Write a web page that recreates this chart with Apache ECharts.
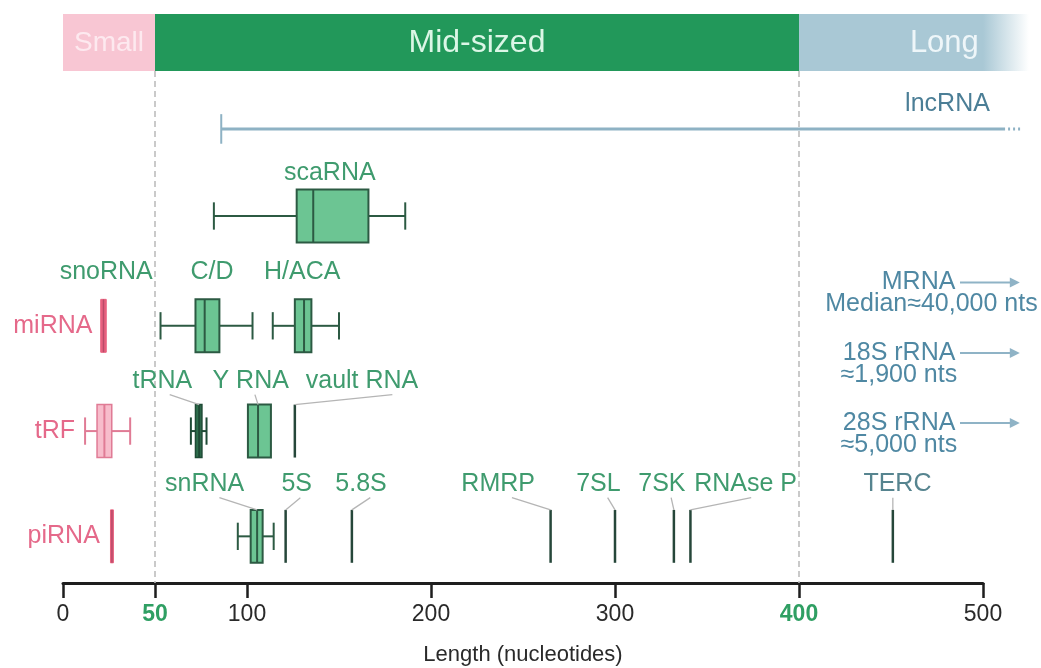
<!DOCTYPE html>
<html>
<head>
<meta charset="utf-8">
<script src="https://cdn.jsdelivr.net/npm/echarts@6/dist/echarts.min.js"></script>
<style>
  html, body { margin: 0; padding: 0; background: #fff; }
  #chart { width: 1041px; height: 668px; }
</style>
</head>
<body>
<div id="chart"></div>
<script>
// length classes shown in the top band
const bandNames = ['Small', 'Mid-sized', 'Long'];
const bandStart = [0, 50, 400];
const bandEnd = [50, 400, 525];

// box plots: [min, q1, median, q3, max] in nucleotides
const boxNames = ['scaRNA', 'C/D', 'H/ACA', 'miRNA', 'tRF', 'tRNA', 'Y RNA', 'snRNA', 'piRNA'];
const boxRows = ['scaRNA', 'miRNA', 'miRNA', 'miRNA', 'tRF', 'tRF', 'tRF', 'piRNA', 'piRNA'];
const boxStats = [
  [82, 127, 136, 166, 186],
  [53, 72, 77, 85, 103],
  [114, 126, 131, 135, 150],
  [20.5, 20.5, 22, 23.5, 23.5],
  [12, 18.5, 22.5, 26.5, 36.5],
  [69.5, 72, 74, 75.5, 78],
  [100.5, 100.5, 106, 113, 113],
  [95, 102, 105.5, 108.5, 114.5],
  [25.8, 25.8, 26.6, 27.4, 27.4]
];

// RNAs with a single length
const singleNames = ['vault RNA', '5S', '5.8S', 'RMRP', '7SL', '7SK', 'RNAse P', 'TERC'];
const singleRows = ['tRF', 'piRNA', 'piRNA', 'piRNA', 'piRNA', 'piRNA', 'piRNA', 'piRNA'];
const singleLengths = [126, 121, 157, 265, 300, 332, 341, 451];

// lncRNA: from ~86 nt, open ended
const lncStart = 86;
const lncEnd = 512;
const lncDotsEnd = 521;

// long RNAs off the scale
const offScaleNames = ['MRNA', '18S rRNA', '28S rRNA'];
const offScaleNotes = ['Median\u224840,000 nts', '\u22481,900 nts', '\u22485,000 nts'];

// axis
const tickValues = [0, 50, 100, 200, 300, 400, 500];
const boundaryTicks = [50, 400];

// ---- layout (vertical levels: 0 = top of band, 10 = axis) ----
const rowY = { lncRNA: 2.02, scaRNA: 3.55, miRNA: 5.48, tRF: 7.33, piRNA: 9.18 };
const labelY = { lncRNA: 1.58, scaRNA: 2.79, miRNA: 4.53, tRF: 6.45, piRNA: 8.26 };
const boxHalf = 0.465;
const capHalf = 0.24;
const bandLabelX = [25, 225, 479];
const rowLabelX = { miRNA: 16, tRF: 6.5, piRNA: 20 };
// [text, row, label centre x, leader start x]
const labelPlaces = [
  ['scaRNA', 'scaRNA', 145, null],
  ['snoRNA', 'miRNA', 23.5, null],
  ['C/D', 'miRNA', 81, null],
  ['H/ACA', 'miRNA', 130, null],
  ['tRNA', 'tRF', 54, 58],
  ['Y RNA', 'tRF', 102, 104.3],
  ['vault RNA', 'tRF', 162.5, 179],
  ['snRNA', 'piRNA', 77, 85],
  ['5S', 'piRNA', 127, 129],
  ['5.8S', 'piRNA', 162, 167],
  ['RMRP', 'piRNA', 236.5, 244],
  ['7SL', 'piRNA', 291, 296],
  ['7SK', 'piRNA', 325.5, 330.5],
  ['RNAse P', 'piRNA', 371, 374],
  ['TERC', 'piRNA', 453.5, 451]
];
const offScaleTitleY = [4.72, 5.96, 7.19];
const offScaleNoteY = [5.1, 6.35, 7.58];
const offScaleTitleX = 485;
const offScaleNoteX = [472, 454.3, 454.3];
const arrowFrom = 487.5;
const arrowTo = 520;

const FONT = '"Liberation Sans", Arial, Helvetica, sans-serif';
const GREEN_TXT = '#3f9b6e';
const PINK_TXT = '#e5698a';
const BLUE_TXT = '#4f88a3';
const DARK = '#2c5a43';

const boxStyle = {
  default: { fill: '#6cc593', stroke: DARK, width: 2, whisker: DARK },
  tRNA: { fill: '#2f6e4d', stroke: '#1e4a35', width: 1.5, whisker: '#1e4a35' },
  tRF: { fill: '#f7bccb', stroke: '#e07b95', width: 1.5, whisker: '#e07b95' },
  miRNA: { fill: '#e8617f', stroke: '#e8617f', width: 1, whisker: '#e8617f', mid: '#b94b69' },
  piRNA: { fill: '#e8617f', stroke: '#e8617f', width: 1, whisker: '#e8617f', mid: '#b94b69' }
};

const chart = echarts.init(document.getElementById('chart'));

function seg(x1, y1, x2, y2, stroke, lineWidth, lineDash) {
  return { type: 'line', shape: { x1, y1, x2, y2 }, style: { stroke, lineWidth, lineDash: lineDash || null } };
}
function txt(x, y, text, fill, size, align, weight) {
  return {
    type: 'text', x, y,
    style: {
      text, fill, fontSize: size, fontFamily: FONT, fontWeight: weight || 'normal',
      align: align || 'center', verticalAlign: 'middle',
      textAlign: align || 'center', textVerticalAlign: 'middle'
    }
  };
}

// find the mark a label points at
function markValue(name) {
  const b = boxNames.indexOf(name);
  if (b >= 0) return boxStats[b][2];
  const s = singleNames.indexOf(name);
  return s >= 0 ? singleLengths[s] : null;
}
function markRow(name) {
  const b = boxNames.indexOf(name);
  if (b >= 0) return boxRows[b];
  return singleRows[singleNames.indexOf(name)];
}

const option = {
  animation: false,
  backgroundColor: '#fff',
  grid: { left: 63, right: 58, top: 14, bottom: 85, outerBoundsMode: 'none' },
  xAxis: {
    type: 'value', min: 0, max: 500, position: 'bottom',
    splitLine: { show: false },
    axisLine: { show: true, onZero: false, lineStyle: { color: '#1e1e1e', width: 3 } },
    axisTick: { show: true, customValues: tickValues, length: 15, lineStyle: { color: '#1e1e1e', width: 2.5 } },
    axisLabel: {
      customValues: tickValues, margin: 20,
      fontFamily: FONT, fontSize: 23, color: '#2a2a2a',
      formatter: v => boundaryTicks.includes(v) ? '{g|' + v + '}' : String(v),
      rich: { g: { fontFamily: FONT, fontSize: 23, color: '#2f9f63', fontWeight: 'bold' } }
    },
    name: 'Length (nucleotides)', nameLocation: 'middle', nameGap: 61,
    nameTextStyle: { fontFamily: FONT, fontSize: 22, color: '#2a2a2a' }
  },
  yAxis: { type: 'value', min: 0, max: 10, inverse: true, show: false },
  series: [
    // boundary lines at 50 and 400
    {
      type: 'custom', clip: false, z: 1,
      data: boundaryTicks.map(v => [v]),
      renderItem: (params, api) => {
        const a = api.coord([api.value(0), 1]);
        const b = api.coord([api.value(0), 10]);
        return seg(a[0], a[1], b[0], b[1], '#bdbdbd', 1.6, [6, 4]);
      }
    },
    // top band
    {
      type: 'custom', clip: false, z: 3,
      data: bandNames.map((n, i) => [bandStart[i], bandEnd[i]]),
      renderItem: (params, api) => {
        const i = params.dataIndex;
        const p0 = api.coord([api.value(0), 0]);
        const p1 = api.coord([api.value(1), 1]);
        const fills = [
          '#f8c6d3',
          '#22985a',
          new echarts.graphic.LinearGradient(0, 0, 1, 0, [
            { offset: 0, color: '#a9c8d5' },
            { offset: 0.8, color: '#a9c8d5' },
            { offset: 1, color: 'rgba(169,200,213,0)' }
          ])
        ];
        const colors = ['#fde9ef', '#dbf6e6', '#eef6f9'];
        const sizes = [28, 32, 31];
        const lx = api.coord([bandLabelX[i], 0.52]);
        return {
          type: 'group',
          children: [
            { type: 'rect', shape: { x: p0[0], y: p0[1], width: p1[0] - p0[0], height: p1[1] - p0[1] }, style: { fill: fills[i] } },
            txt(lx[0], lx[1], bandNames[i], colors[i], sizes[i])
          ]
        };
      }
    },
    // lncRNA range
    {
      type: 'custom', clip: false, z: 2,
      data: [[lncStart, lncEnd, lncDotsEnd]],
      renderItem: (params, api) => {
        const y = rowY.lncRNA;
        const a = api.coord([api.value(0), y]);
        const b = api.coord([api.value(1), y]);
        const c = api.coord([api.value(2), y]);
        const t = api.coord([api.value(0), y - 0.26]);
        const u = api.coord([api.value(0), y + 0.26]);
        const l = api.coord([480.7, labelY.lncRNA]);
        return {
          type: 'group',
          children: [
            seg(a[0], a[1], b[0], b[1], '#8eb2c4', 3),
            seg(b[0] + 3, b[1], c[0], c[1], '#8eb2c4', 3, [2, 3]),
            seg(t[0], t[1], u[0], u[1], '#8eb2c4', 2),
            txt(l[0], l[1], 'lncRNA', '#4b7e96', 25)
          ]
        };
      }
    },
    // box plots
    {
      type: 'custom', clip: false, z: 4,
      data: boxStats.map((s, i) => s.concat([rowY[boxRows[i]]])),
      renderItem: (params, api) => {
        const name = boxNames[params.dataIndex];
        const st = boxStyle[name] || boxStyle.default;
        const y = api.value(5);
        const xs = [0, 1, 2, 3, 4].map(k => api.coord([api.value(k), y])[0]);
        const mid = api.coord([0, y])[1];
        const top = api.coord([0, y - boxHalf])[1];
        const bot = api.coord([0, y + boxHalf])[1];
        const cTop = api.coord([0, y - capHalf])[1];
        const cBot = api.coord([0, y + capHalf])[1];
        const ch = [];
        if (xs[0] < xs[1]) {
          ch.push(seg(xs[0], mid, xs[1], mid, st.whisker, 2));
          ch.push(seg(xs[0], cTop, xs[0], cBot, st.whisker, 2));
        }
        if (xs[4] > xs[3]) {
          ch.push(seg(xs[3], mid, xs[4], mid, st.whisker, 2));
          ch.push(seg(xs[4], cTop, xs[4], cBot, st.whisker, 2));
        }
        ch.push({
          type: 'rect',
          shape: { x: xs[1], y: top, width: xs[3] - xs[1], height: bot - top },
          style: { fill: st.fill, stroke: st.stroke, lineWidth: st.width }
        });
        ch.push(seg(xs[2], top, xs[2], bot, st.mid || st.stroke, st.mid ? 1.5 : 2));
        return { type: 'group', children: ch };
      }
    },
    // single-length RNAs
    {
      type: 'custom', clip: false, z: 4,
      data: singleLengths.map((v, i) => [v, rowY[singleRows[i]]]),
      renderItem: (params, api) => {
        const a = api.coord([api.value(0), api.value(1) - boxHalf]);
        const b = api.coord([api.value(0), api.value(1) + boxHalf]);
        return seg(a[0], a[1], b[0], b[1], '#26473a', 2.5);
      }
    },
    // labels with leader lines
    {
      type: 'custom', clip: false, z: 5,
      data: labelPlaces.map(p => [p[2]]),
      renderItem: (params, api) => {
        const [text, row, lx, from] = labelPlaces[params.dataIndex];
        const ly = labelY[row];
        const p = api.coord([api.value(0), ly]);
        const color = text === 'TERC' ? '#56848f' : GREEN_TXT;
        const ch = [];
        if (from !== null) {
          const target = markValue(text);
          const r = rowY[markRow(text)];
          const a = api.coord([from, ly + 0.24]);
          const b = api.coord([target, r - boxHalf]);
          ch.push(seg(a[0], a[1], b[0], b[1], '#b5b5b5', 1.3));
        }
        ch.push(txt(p[0], p[1], text, color, 25));
        return { type: 'group', children: ch };
      }
    },
    // row labels (small RNAs)
    {
      type: 'custom', clip: false, z: 5,
      data: Object.keys(rowLabelX).map(k => [rowLabelX[k], rowY[k]]),
      renderItem: (params, api) => {
        const name = Object.keys(rowLabelX)[params.dataIndex];
        const p = api.coord([api.value(0), api.value(1)]);
        return txt(p[0], p[1], name, PINK_TXT, 25, 'right');
      }
    },
    // off-scale long RNAs
    {
      type: 'custom', clip: false, z: 5,
      data: offScaleNames.map((n, i) => [offScaleTitleY[i], offScaleNoteY[i]]),
      renderItem: (params, api) => {
        const i = params.dataIndex;
        const t = api.coord([offScaleTitleX, api.value(0)]);
        const n = api.coord([offScaleNoteX[i], api.value(1)]);
        const a = api.coord([arrowFrom, api.value(0)]);
        const b = api.coord([arrowTo, api.value(0)]);
        return {
          type: 'group',
          children: [
            txt(t[0], t[1], offScaleNames[i], BLUE_TXT, 25, 'right'),
            txt(n[0], n[1], offScaleNotes[i], BLUE_TXT, 25),
            seg(a[0], a[1], b[0] - 8, b[1], '#8fb3c6', 2),
            { type: 'polygon', shape: { points: [[b[0] - 10, b[1] - 5], [b[0], b[1]], [b[0] - 10, b[1] + 5]] }, style: { fill: '#8fb3c6' } }
          ]
        };
      }
    }
  ]
};

chart.setOption(option);
</script>
</body>
</html>
